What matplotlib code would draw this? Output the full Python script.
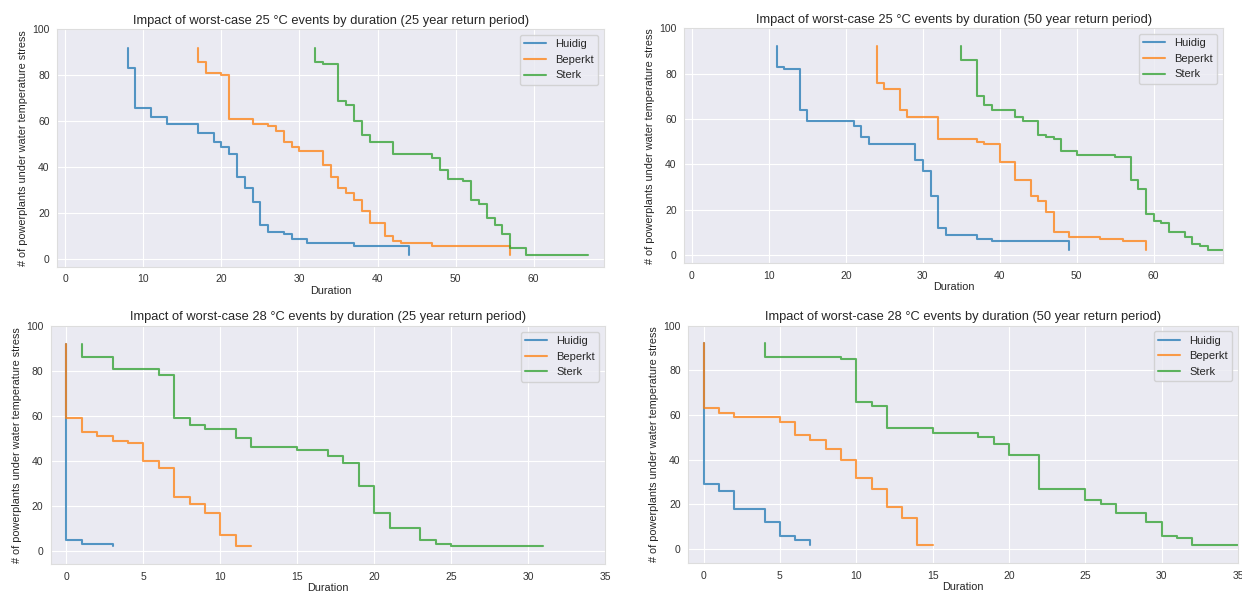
import numpy as np
import matplotlib
matplotlib.use('Agg')
import matplotlib.pyplot as plt
import seaborn as sns

sns.set_style('darkgrid')
plt.rcParams['font.family'] = ['Liberation Sans', 'DejaVu Sans']

# scenario names
scenarios = ['Huidig', 'Beperkt', 'Sterk']
colors = ['#1f77b4', '#ff7f0e', '#2ca02c']

titles = ['Impact of worst-case 25 \u00b0C events by duration (25 year return period)',
          'Impact of worst-case 25 \u00b0C events by duration (50 year return period)',
          'Impact of worst-case 28 \u00b0C events by duration (25 year return period)',
          'Impact of worst-case 28 \u00b0C events by duration (50 year return period)']

# 25 C, 25 year
t25_r25_x = [[8, 8, 9, 11, 13, 17, 19, 20, 21, 22, 23, 24, 25, 26, 28, 29, 31, 37, 44],
             [17, 17, 18, 20, 21, 24, 26, 27, 28, 29, 30, 33, 34, 35, 36, 37, 38, 39, 41, 42, 43, 47, 57],
             [32, 32, 33, 35, 36, 37, 38, 39, 42, 47, 48, 49, 51, 52, 53, 54, 55, 56, 57, 59, 67]]
t25_r25_y = [[92, 83, 66, 62, 59, 55, 51, 49, 46, 36, 31, 25, 15, 12, 11, 9, 7, 6, 2],
             [92, 86, 81, 80, 61, 59, 58, 56, 51, 49, 47, 41, 36, 31, 29, 26, 21, 16, 10, 8, 7, 6, 2],
             [92, 86, 85, 69, 67, 60, 54, 51, 46, 44, 39, 35, 34, 26, 24, 18, 15, 11, 5, 2, 2]]

# 25 C, 50 year
t25_r50_x = [[11, 11, 12, 14, 15, 21, 22, 23, 29, 30, 31, 32, 33, 37, 39, 49],
             [24, 24, 25, 27, 28, 32, 37, 38, 40, 42, 44, 45, 46, 47, 49, 53, 56, 59],
             [35, 35, 37, 38, 39, 42, 43, 45, 46, 47, 48, 50, 55, 57, 58, 59, 60, 61, 62, 64, 65, 66, 67, 70]]
t25_r50_y = [[92, 83, 82, 64, 59, 57, 52, 49, 42, 37, 26, 12, 9, 7, 6, 2],
             [92, 76, 73, 64, 61, 51, 50, 49, 41, 33, 26, 24, 19, 10, 8, 7, 6, 2],
             [92, 86, 70, 66, 64, 61, 59, 53, 52, 51, 46, 44, 43, 33, 29, 18, 15, 14, 10, 8, 5, 4, 2, 2]]

# 28 C, 25 year
t28_r25_x = [[0, 0, 1, 3],
             [0, 0, 1, 2, 3, 4, 5, 6, 7, 8, 9, 10, 11, 12],
             [1, 1, 3, 6, 7, 8, 9, 11, 12, 15, 17, 18, 19, 20, 21, 23, 24, 25, 31]]
t28_r25_y = [[92, 5, 3, 2],
             [92, 59, 53, 51, 49, 48, 40, 37, 24, 21, 17, 7, 2, 2],
             [92, 86, 81, 78, 59, 56, 54, 50, 46, 45, 42, 39, 29, 17, 10, 5, 3, 2, 2]]

# 28 C, 50 year
t28_r50_x = [[0, 0, 1, 2, 4, 5, 6, 7],
             [0, 0, 1, 2, 5, 6, 7, 8, 9, 10, 11, 12, 13, 14, 15],
             [4, 4, 9, 10, 11, 12, 15, 18, 19, 20, 22, 25, 26, 27, 29, 30, 31, 32, 36]]
t28_r50_y = [[92, 29, 26, 18, 12, 6, 4, 2],
             [92, 63, 61, 59, 57, 51, 49, 45, 40, 32, 27, 19, 14, 2, 2],
             [92, 86, 85, 66, 64, 54, 52, 50, 47, 42, 27, 22, 20, 16, 12, 6, 5, 2, 2]]

all_x = [t25_r25_x, t25_r50_x, t28_r25_x, t28_r50_x]
all_y = [t25_r25_y, t25_r50_y, t28_r25_y, t28_r50_y]

# axes boxes in pixels: left, top, right, bottom (the panels are not quite the same size)
boxes = [(57.3, 29.3, 604, 266.7),
         (684.3, 28.3, 1223, 263.3),
         (51, 326, 605, 564),
         (688.3, 325.5, 1238, 563.3)]
xlims = [(-1, 69), (-1, 69), (-1, 35), (-1, 35)]
ylims = [(-3.2, 100), (-3.7, 100), (-5.8, 100), (-6.3, 100)]

W, H = 1242, 597
fig = plt.figure(figsize=(W / 100, H / 100), dpi=100)

for k in range(4):
    l, t, r, b = boxes[k]
    ax = fig.add_axes([l / W, 1 - b / H, (r - l) / W, (b - t) / H])
    for i in range(3):
        ax.plot(all_x[k][i], all_y[k][i], drawstyle='steps-post', color=colors[i],
                alpha=0.75, lw=1.5, label=scenarios[i])
    ax.set_xlim(*xlims[k])
    ax.set_ylim(*ylims[k])
    ax.set_yticks([0, 20, 40, 60, 80, 100])
    ax.tick_params(labelsize=7.5, colors='#333333', pad=2)
    ax.set_title(titles[k], fontsize=9.3, pad=4)
    ax.set_xlabel('Duration', fontsize=7.8, labelpad=1)
    ax.set_ylabel('# of powerplants under water temperature stress', fontsize=7.8, labelpad=3)
    for s in ax.spines.values():
        s.set_visible(True)
        s.set_color('#dddddd')
        s.set_linewidth(0.8)
    ax.legend(loc='upper right', fontsize=8)

fig.savefig('out.png', dpi=100)
